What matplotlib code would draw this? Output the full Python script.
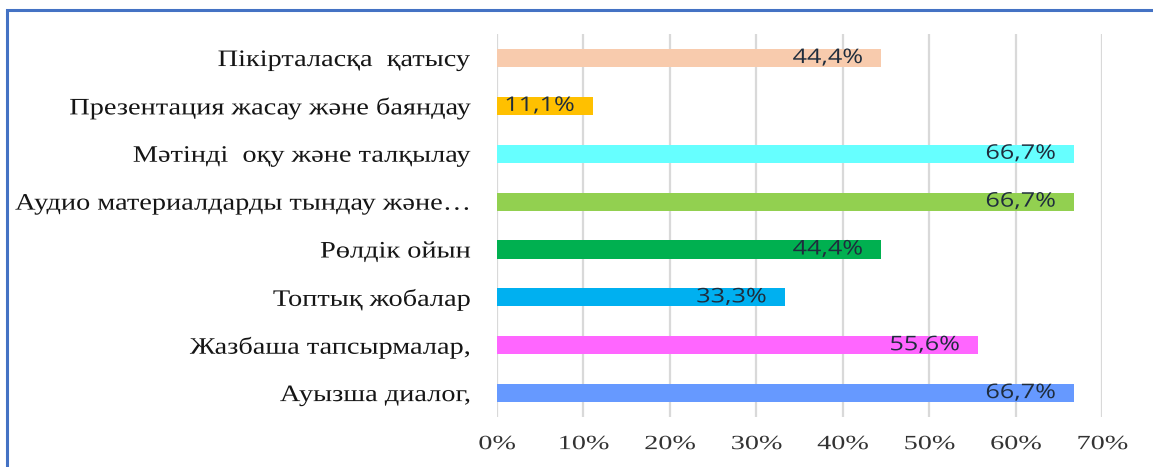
import matplotlib
matplotlib.use("Agg")
import matplotlib.pyplot as plt
from matplotlib.patches import Rectangle
from matplotlib.patheffects import AbstractPathEffect
from matplotlib.transforms import Affine2D

categories = [
    "Ауызша диалог,",
    "Жазбаша тапсырмалар,",
    "Топтық жобалар",
    "Рөлдік ойын",
    "Аудио материалдарды тындау және…",
    "Мәтінді  оқу және талқылау",
    "Презентация жасау және баяндау",
    "Пікірталасқа  қатысу",
]
values = [66.7, 55.6, 33.3, 44.4, 66.7, 66.7, 11.1, 44.4]
value_labels = ["66,7%", "55,6%", "33,3%", "44,4%", "66,7%", "66,7%", "11,1%", "44,4%"]
colors = ["#6699FF", "#FF66FF", "#00B0F0", "#00B050", "#92D050", "#66FFFF", "#FFC000", "#F8CBAD"]
xticks = [0, 10, 20, 30, 40, 50, 60, 70]
xtick_labels = ["0%", "10%", "20%", "30%", "40%", "50%", "60%", "70%"]


class HStretch(AbstractPathEffect):
    """Stretch text horizontally about its right edge or centre (text stays real text)."""
    def __init__(self, sx, anchor="right"):
        super().__init__()
        self.sx = sx
        self.anchor = anchor

    def draw_path(self, renderer, gc, tpath, affine, rgbFace=None):
        xs = tpath.vertices[:, 0]
        if len(xs):
            if self.anchor == "right":
                x0 = xs.max()
            elif self.anchor == "center":
                x0 = (xs.min() + xs.max()) / 2
            else:
                x0 = xs.min()
        else:
            x0 = 0
        t = Affine2D().translate(-x0, 0).scale(self.sx, 1).translate(x0, 0) + affine
        renderer.draw_path(gc, tpath, t, rgbFace)


fig = plt.figure(figsize=(11.53, 4.67), dpi=100)
ax = fig.add_axes([0.431, 0.107, 0.525, 0.820])

y = list(range(len(categories)))
ax.barh(y, values, height=0.38, color=colors, zorder=3)
ax.set_xlim(0, 70)
ax.set_ylim(-0.5, len(categories) - 0.5)

for yi, v, lab in zip(y, values, value_labels):
    ax.annotate(lab, (v, yi), xytext=(-13, 0), textcoords="offset points",
                ha="right", va="center", fontsize=14.5, color="#1f2d3d",
                family=["Open Sans", "DejaVu Sans"], zorder=4,
                path_effects=[HStretch(1.25, "right")])

ax.set_yticks(y)
ax.set_yticklabels(categories, family=["Liberation Serif", "DejaVu Serif"], fontsize=17, color="#151515")
ax.set_xticks(xticks)
ax.set_xticklabels(xtick_labels, family=["Liberation Serif", "DejaVu Serif"], fontsize=14.5, color="#333333")
ax.tick_params(axis="y", length=0, pad=19)
ax.tick_params(axis="x", length=0, pad=13)
for t in ax.get_yticklabels():
    t.set_path_effects([HStretch(1.2, "right")])
for t in ax.get_xticklabels():
    t.set_path_effects([HStretch(1.4, "center")])
ax.grid(axis="x", color="#D9D9D9", linewidth=1.6, zorder=0)
for s in ax.spines.values():
    s.set_visible(False)

# frame around the chart area
fig.patches.append(Rectangle((7 / 1153, -0.1), 1.2, 1.1 - 10 / 467, transform=fig.transFigure,
                             fill=False, edgecolor="#4472C4", linewidth=2.2))

fig.savefig("out.png", dpi=100)
